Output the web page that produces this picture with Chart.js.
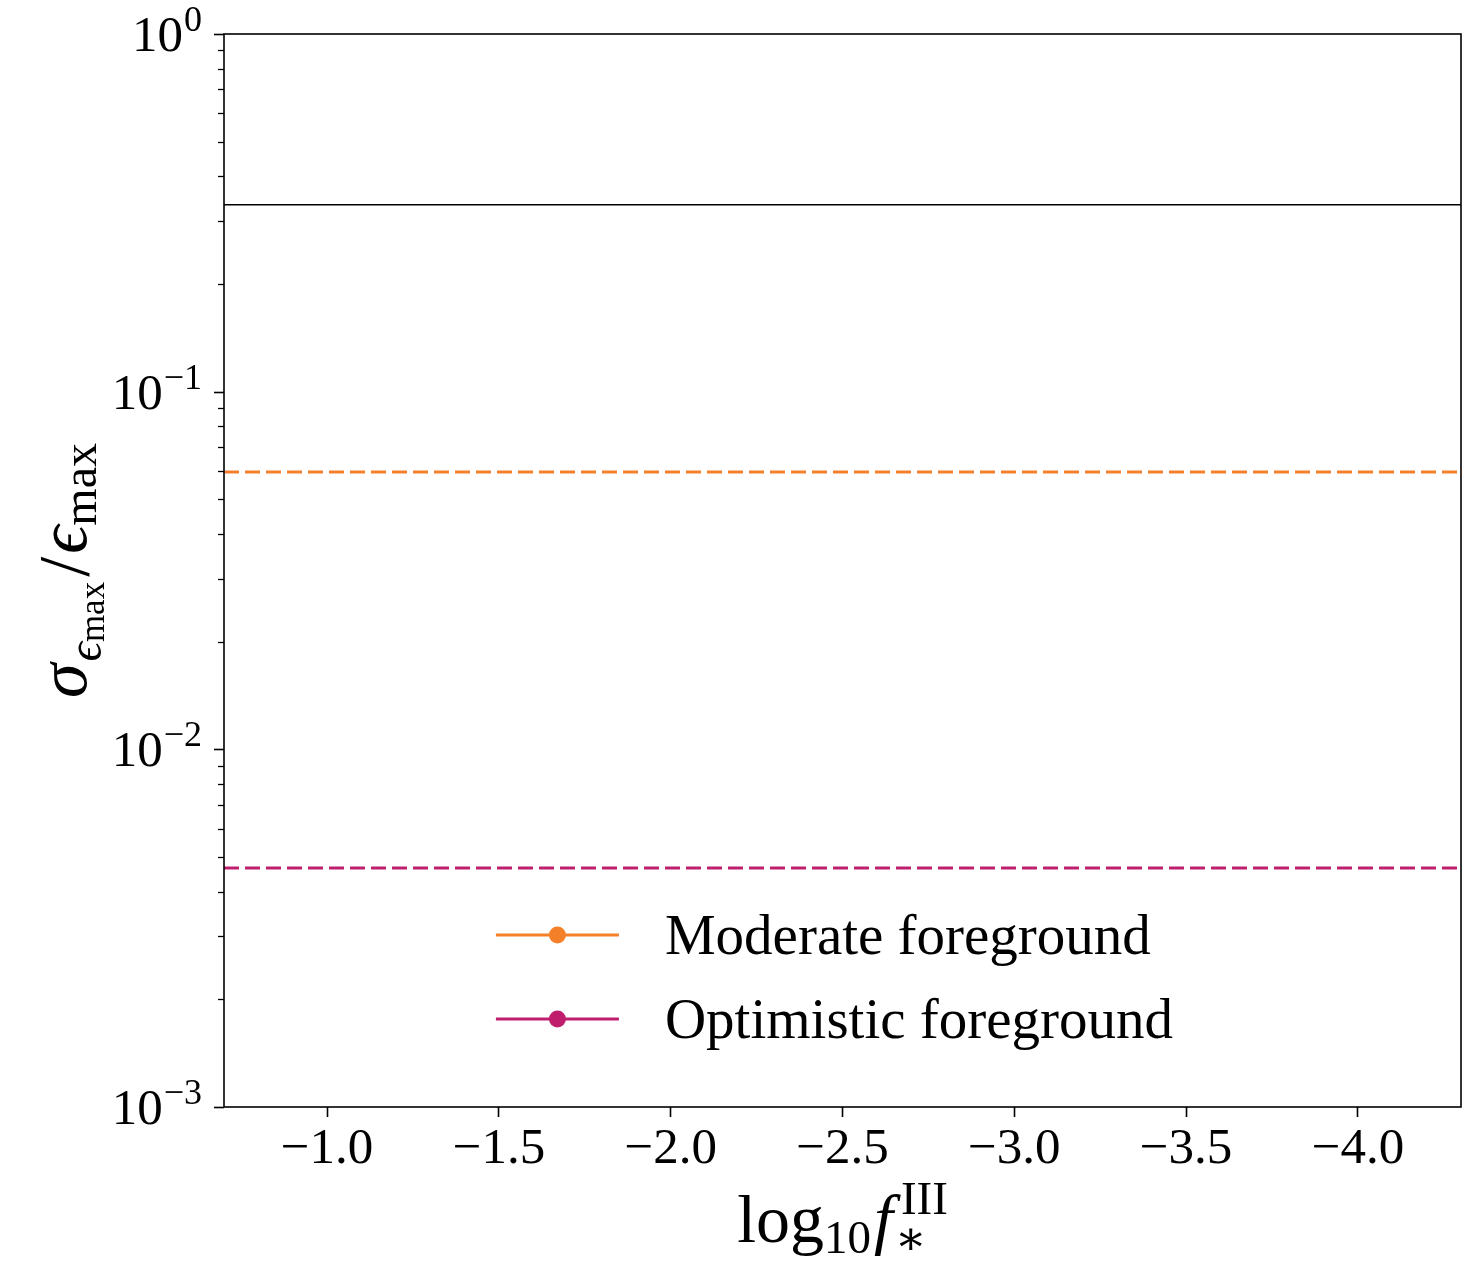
<!DOCTYPE html>
<html>
<head>
<meta charset="utf-8">
<script src="https://cdn.jsdelivr.net/npm/chart.js@4.4.0/dist/chart.umd.min.js"></script>
<style>
  html, body { margin: 0; padding: 0; background: #fff; }
  #wrap { width: 1483px; height: 1261px; }
</style>
</head>
<body>
<div id="wrap"><canvas id="chart" width="1483" height="1261"></canvas></div>
<script>
// x axis: log10 f*^III, runs from high to low
const xRange = [-0.7, -4.3];
const xTicks = [-1.0, -1.5, -2.0, -2.5, -3.0, -3.5, -4.0];

// y axis: log scale, one label per decade
const yRange = [1e-3, 1];
const yDecades = [-3, -2, -1, 0];

// horizontal levels (sigma / eps_max)
const seriesNames = ['Reference', 'Moderate foreground', 'Optimistic foreground'];
const seriesValues = [0.333, 0.0596, 0.00466];
const seriesColors = ['#000000', '#f5802a', '#bf1e6d'];
const seriesDashed = [false, true, true];
const legendSeries = [1, 2];

const SERIF = '"Liberation Serif", "DejaVu Serif", serif';

// draw a run of text pieces left to right; a piece may carry sub / sup stacked at the same x
function drawRun(ctx, parts, x, y, measureOnly) {
    let cx = x;
    parts.forEach(p => {
        if (p.t !== undefined) {
            ctx.font = p.font;
            if (!measureOnly) ctx.fillText(p.t, cx, y + (p.dy || 0));
            cx += ctx.measureText(p.t).width + (p.gap || 0);
        } else {
            let w = 0;
            [p.sub, p.sup].forEach(s => {
                if (!s) return;
                ctx.font = s.font;
                if (!measureOnly) ctx.fillText(s.t, cx + (s.dx || 0), y + s.dy);
                w = Math.max(w, ctx.measureText(s.t).width + (s.dx || 0));
            });
            cx += w + (p.gap || 0);
        }
    });
    return cx - x;
}

const decorPlugin = {
    id: 'decor',
    afterDraw(chart) {
        const ctx = chart.ctx;
        const area = chart.chartArea;
        const yScale = chart.scales.y;
        ctx.save();
        ctx.fillStyle = '#000';
        ctx.strokeStyle = '#000';
        ctx.textBaseline = 'alphabetic';

        // frame
        ctx.lineWidth = 1.6;
        ctx.strokeRect(area.left, area.top, area.right - area.left, area.bottom - area.top);

        // y ticks: majors at decades, minors at 2..9
        yDecades.forEach(d => {
            for (let m = 1; m <= 9; m++) {
                const v = m * Math.pow(10, d);
                if (v > yRange[1] * 1.0001) break;
                const py = Math.round(yScale.getPixelForValue(v)) + 0.5;
                ctx.lineWidth = m === 1 ? 1.6 : 1.3;
                ctx.beginPath();
                ctx.moveTo(area.left, py);
                ctx.lineTo(area.left - (m === 1 ? 10 : 6), py);
                ctx.stroke();
            }
            // label 10^d
            const py = yScale.getPixelForValue(Math.pow(10, d));
            const exp = d === 0 ? '0' : '\u2212' + Math.abs(d);
            const parts = [
                { t: '10', font: '51px ' + SERIF, dy: 0, gap: 1 },
                { t: exp, font: '36px ' + SERIF, dy: -20 }
            ];
            const w = drawRun(ctx, parts, 0, 0, true);
            drawRun(ctx, parts, area.left - 22 - w, py + 17);
        });

        // legend, lower center inside the axes
        const handleLen = 123, textGap = 46, rowGap = 84;
        ctx.font = '57px ' + SERIF;
        let maxText = 0;
        legendSeries.forEach(i => { maxText = Math.max(maxText, ctx.measureText(seriesNames[i]).width); });
        const legW = handleLen + textGap + maxText;
        const lx = (area.left + area.right) / 2 - legW / 2 - 8;
        legendSeries.forEach((i, k) => {
            const ly = area.bottom - 88 - (legendSeries.length - 1 - k) * rowGap;
            ctx.strokeStyle = seriesColors[i];
            ctx.fillStyle = seriesColors[i];
            ctx.lineWidth = 3.2;
            ctx.beginPath();
            ctx.moveTo(lx, ly);
            ctx.lineTo(lx + handleLen, ly);
            ctx.stroke();
            ctx.beginPath();
            ctx.arc(lx + handleLen / 2, ly, 8.5, 0, Math.PI * 2);
            ctx.fill();
            ctx.fillStyle = '#000';
            ctx.font = '57px ' + SERIF;
            ctx.fillText(seriesNames[i], lx + handleLen + textGap, ly + 19);
        });

        // x title: log10 f_*^III
        ctx.fillStyle = '#000';
        const xParts = [
            { t: 'log', font: '68px ' + SERIF, dy: 0 },
            { t: '10', font: '47px ' + SERIF, dy: 11, gap: 3 },
            { t: 'f', font: 'italic 68px ' + SERIF, dy: 0, gap: 2 },
            { sub: { t: '\u2217', font: '47px ' + SERIF, dy: 12 },
              sup: { t: 'III', font: '47px ' + SERIF, dy: -28, dx: 6 } }
        ];
        const xw = drawRun(ctx, xParts, 0, 0, true);
        drawRun(ctx, xParts, (area.left + area.right) / 2 - xw / 2, 1242);

        // y title: sigma_{eps_max} / eps_max, rotated
        const yParts = [
            { t: '\u03c3', font: 'italic 70px ' + SERIF, dy: 0, gap: 2 },
            { t: '\u03f5', font: 'italic 48px ' + SERIF, dy: 15 },
            { t: 'max', font: '35px ' + SERIF, dy: 18, gap: 5 },
            { t: '/', font: '72px ' + SERIF, dy: 2, gap: 3 },
            { t: '\u03f5', font: 'italic 70px ' + SERIF, dy: 0 },
            { t: 'max', font: '48px ' + SERIF, dy: 10 }
        ];
        const yw = drawRun(ctx, yParts, 0, 0, true);
        ctx.translate(86, (area.top + area.bottom) / 2);
        ctx.rotate(-Math.PI / 2);
        drawRun(ctx, yParts, -yw / 2, 0);
        ctx.restore();
    }
};

const datasets = seriesValues.map((v, i) => ({
    label: seriesNames[i],
    data: xRange.map(x => ({ x: x, y: v })),
    borderColor: seriesColors[i],
    borderWidth: seriesDashed[i] ? 3 : 1.5,
    borderDash: seriesDashed[i] ? [15, 6] : [],
    pointRadius: 0,
    fill: false,
    tension: 0
}));

const ctx = document.getElementById('chart').getContext('2d');
const chart = new Chart(ctx, {
    type: 'line',
    data: { datasets: datasets },
    options: {
        responsive: false,
        animation: false,
        layout: { padding: { left: 0, top: 34, right: 22, bottom: 0 } },
        plugins: {
            legend: { display: false },
            tooltip: { enabled: false }
        },
        scales: {
            x: {
                type: 'linear',
                min: xRange[1],
                max: xRange[0],
                reverse: true,
                afterBuildTicks: scale => { scale.ticks = xTicks.map(v => ({ value: v })); },
                afterFit: scale => { scale.height = 1261 - 1107; },
                border: { display: false },
                grid: {
                    display: true,
                    drawOnChartArea: false,
                    drawTicks: true,
                    tickLength: 10,
                    tickColor: '#000',
                    tickWidth: 1.6
                },
                ticks: {
                    color: '#000',
                    font: { family: SERIF, size: 51 },
                    padding: 2,
                    maxRotation: 0,
                    autoSkip: false,
                    callback: v => '\u2212' + Math.abs(v).toFixed(1)
                }
            },
            y: {
                type: 'logarithmic',
                min: yRange[0],
                max: yRange[1],
                afterFit: scale => { scale.width = 224; },
                border: { display: false },
                grid: { display: false },
                ticks: { display: false }
            }
        }
    },
    plugins: [decorPlugin]
});
</script>
</body>
</html>
